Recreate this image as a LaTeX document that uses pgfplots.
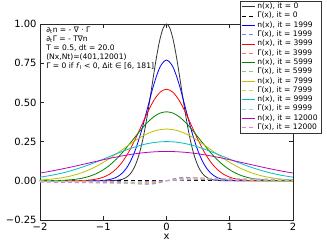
\documentclass[border=0pt]{standalone}
\usepackage{fontspec}
\setmainfont{DejaVu Sans}
\usepackage{pgfplots}
\pgfplotsset{compat=1.18}
\definecolor{mgreen}{rgb}{0,0.5,0}
\definecolor{myellow}{rgb}{0.75,0.75,0}
\definecolor{mcyan}{rgb}{0,0.75,0.75}
\definecolor{mmag}{rgb}{0.75,0,0.75}
\begin{document}
\begin{tikzpicture}
\useasboundingbox (-40bp,-25bp) rectangle (287bp,220bp);
\begin{axis}[
  at={(0bp,0bp)}, anchor=south west,
  scale only axis, width=253bp, height=196bp,
  xmin=-2, xmax=2, ymin=-0.25, ymax=1.0,
  xtick={-2,-1,0,1,2}, xticklabels={−2,−1,0,1,2},
  ytick={-0.25,0,0.25,0.5,0.75,1}, yticklabels={−0.25,0.00,0.25,0.50,0.75,1.00},
  tick align=inside, major tick length=4bp,
  xtick pos=both, ytick pos=both,
  axis line style={line width=0.8bp, black!85},
  every tick/.style={black!85, line width=0.6bp},
  tick label style={font=\fontsize{10}{12}\selectfont},
  xlabel={x}, xlabel style={font=\fontsize{10}{12}\selectfont, yshift=4bp},
  legend cell align=left,
  legend style={at={(1.112,1.118)}, anchor=north east, draw=black!80, fill=white,
    font=\fontsize{7.6}{8}\selectfont, row sep=0pt, inner xsep=1.5bp, inner ysep=1bp,
    nodes={text height=5.4bp, text depth=1.6bp, inner ysep=1.15bp},
    /tikz/every even column/.append style={column sep=7bp}},
  legend image code/.code={\draw[#1] (0bp,0bp) -- (13bp,0bp);},
  every axis plot/.append style={line width=0.8bp},
]
% it=0
\addplot[black!80, smooth] coordinates {(-2,0)(-1.0,0)(-0.9,0.0005)(-0.8,0.0023)(-0.75,0.0048)(-0.7,0.0095)(-0.65,0.0181)(-0.6,0.0327)(-0.55,0.0565)(-0.5,0.0930)(-0.45,0.1461)(-0.4,0.2187)(-0.35,0.3123)(-0.3,0.4253)(-0.25,0.5523)(-0.2,0.6839)(-0.15,0.8076)(-0.1,0.9094)(-0.05,0.9765)(0,1)(0.05,0.9765)(0.1,0.9094)(0.15,0.8076)(0.2,0.6839)(0.25,0.5523)(0.3,0.4253)(0.35,0.3123)(0.4,0.2187)(0.45,0.1461)(0.5,0.0930)(0.55,0.0565)(0.6,0.0327)(0.65,0.0181)(0.7,0.0095)(0.75,0.0048)(0.8,0.0023)(0.9,0.0005)(1.0,0)(2,0)};
\addlegendentry{n(x), it = 0}
\addplot[black, dash pattern=on 4bp off 3bp] coordinates {(-2,0)(2,0)};
\addlegendentry{Γ(x), it = 0}
% it=1999
\addplot[blue, smooth] coordinates {(-2,0)(-1.4,0)(-1.2,0.0002)(-1.1,0.0008)(-1.0,0.0027)(-0.9,0.0080)(-0.8,0.0209)(-0.7,0.0487)(-0.6,0.1013)(-0.5,0.1883)(-0.4,0.3126)(-0.3,0.4638)(-0.2,0.6147)(-0.1,0.7278)(0,0.770)(0.1,0.7278)(0.2,0.6147)(0.3,0.4638)(0.4,0.3126)(0.5,0.1883)(0.6,0.1013)(0.7,0.0487)(0.8,0.0209)(0.9,0.0080)(1.0,0.0027)(1.1,0.0008)(1.2,0.0002)(1.4,0)(2,0)};
\addlegendentry{n(x), it = 1999}
\addplot[blue!50, dash pattern=on 4bp off 3bp, smooth] coordinates {(-2,0)(-1.2,0)(-1.0,-0.0005)(-0.9,-0.0012)(-0.8,-0.0028)(-0.7,-0.0056)(-0.6,-0.0098)(-0.5,-0.0151)(-0.4,-0.0199)(-0.3,-0.0220)(-0.2,-0.0194)(-0.1,-0.0114)(0,0)(0.1,0.0114)(0.2,0.0194)(0.3,0.0220)(0.4,0.0199)(0.5,0.0151)(0.6,0.0098)(0.7,0.0056)(0.8,0.0028)(0.9,0.0012)(1.0,0.0005)(1.2,0)(2,0)};
\addlegendentry{Γ(x), it = 1999}
% it=3999
\addplot[red, smooth] coordinates {(-2,0)(-1.6,0.0001)(-1.5,0.0004)(-1.4,0.0010)(-1.3,0.0024)(-1.2,0.0055)(-1.1,0.0116)(-1.0,0.0228)(-0.9,0.0423)(-0.8,0.0734)(-0.7,0.1193)(-0.6,0.1819)(-0.5,0.2598)(-0.4,0.3477)(-0.3,0.4362)(-0.2,0.5130)(-0.1,0.5654)(0,0.584)(0.1,0.5654)(0.2,0.5130)(0.3,0.4362)(0.4,0.3477)(0.5,0.2598)(0.6,0.1819)(0.7,0.1193)(0.8,0.0734)(0.9,0.0423)(1.0,0.0228)(1.1,0.0116)(1.2,0.0055)(1.3,0.0024)(1.4,0.0010)(1.5,0.0004)(1.6,0.0001)(2,0)};
\addlegendentry{n(x), it = 3999}
\addplot[red!55, dash pattern=on 4bp off 3bp, smooth] coordinates {(-2,0)(-1.6,0)(-1.4,-0.0002)(-1.2,-0.0009)(-1.0,-0.0032)(-0.9,-0.0053)(-0.8,-0.0083)(-0.7,-0.0118)(-0.6,-0.0155)(-0.5,-0.0186)(-0.4,-0.0200)(-0.3,-0.0189)(-0.2,-0.0148)(-0.1,-0.0082)(0,0)(0.1,0.0082)(0.2,0.0148)(0.3,0.0189)(0.4,0.0200)(0.5,0.0186)(0.6,0.0155)(0.7,0.0118)(0.8,0.0083)(0.9,0.0053)(1.0,0.0032)(1.2,0.0009)(1.4,0.0002)(1.6,0)(2,0)};
\addlegendentry{Γ(x), it = 3999}
% it=5999
\addplot[mgreen, smooth] coordinates {(-2.0,0.0003)(-1.9,0.0006)(-1.8,0.0011)(-1.7,0.0022)(-1.6,0.0040)(-1.5,0.0070)(-1.4,0.0119)(-1.3,0.0196)(-1.2,0.0311)(-1.1,0.0475)(-1.0,0.0699)(-0.9,0.0991)(-0.8,0.1355)(-0.7,0.1786)(-0.6,0.2269)(-0.5,0.2778)(-0.4,0.3278)(-0.3,0.3729)(-0.2,0.4088)(-0.1,0.4320)(0,0.440)(0.1,0.4320)(0.2,0.4088)(0.3,0.3729)(0.4,0.3278)(0.5,0.2778)(0.6,0.2269)(0.7,0.1786)(0.8,0.1355)(0.9,0.0991)(1.0,0.0699)(1.1,0.0475)(1.2,0.0311)(1.3,0.0196)(1.4,0.0119)(1.5,0.0070)(1.6,0.0040)(1.7,0.0022)(1.8,0.0011)(1.9,0.0006)(2.0,0.0003)};
\addlegendentry{n(x), it = 5999}
\addplot[mgreen!45, dash pattern=on 4bp off 3bp, smooth] coordinates {(-2.0,-0.0001)(-1.8,-0.0003)(-1.6,-0.0008)(-1.4,-0.0021)(-1.2,-0.0048)(-1.0,-0.0090)(-0.8,-0.0140)(-0.6,-0.0176)(-0.4,-0.0170)(-0.2,-0.0106)(0,0)(0.2,0.0106)(0.4,0.0170)(0.6,0.0176)(0.8,0.0140)(1.0,0.0090)(1.2,0.0048)(1.4,0.0021)(1.6,0.0008)(1.8,0.0003)(2.0,0.0001)};
\addlegendentry{Γ(x), it = 5999}
% it=7999
\addplot[myellow, smooth] coordinates {(-2.0,0.0053)(-1.9,0.0079)(-1.8,0.0115)(-1.7,0.0166)(-1.6,0.0233)(-1.5,0.0321)(-1.4,0.0434)(-1.3,0.0574)(-1.2,0.0744)(-1.1,0.0943)(-1.0,0.1172)(-0.9,0.1427)(-0.8,0.1701)(-0.7,0.1987)(-0.6,0.2273)(-0.5,0.2548)(-0.4,0.2796)(-0.3,0.3007)(-0.2,0.3166)(-0.1,0.3266)(0,0.330)(0.1,0.3266)(0.2,0.3166)(0.3,0.3007)(0.4,0.2796)(0.5,0.2548)(0.6,0.2273)(0.7,0.1987)(0.8,0.1701)(0.9,0.1427)(1.0,0.1172)(1.1,0.0943)(1.2,0.0744)(1.3,0.0574)(1.4,0.0434)(1.5,0.0321)(1.6,0.0233)(1.7,0.0166)(1.8,0.0115)(1.9,0.0079)(2.0,0.0053)};
\addlegendentry{n(x), it = 7999}
\addplot[myellow!70, dash pattern=on 4bp off 3bp, smooth] coordinates {(-2.0,-0.0013)(-1.8,-0.0025)(-1.6,-0.0044)(-1.4,-0.0071)(-1.2,-0.0104)(-1.0,-0.0136)(-0.8,-0.0157)(-0.6,-0.0157)(-0.4,-0.0128)(-0.2,-0.0072)(0,0)(0.2,0.0072)(0.4,0.0128)(0.6,0.0157)(0.8,0.0157)(1.0,0.0136)(1.2,0.0104)(1.4,0.0071)(1.6,0.0044)(1.8,0.0025)(2.0,0.0013)};
\addlegendentry{Γ(x), it = 7999}
% it=9999
\addplot[mcyan, smooth] coordinates {(-2.0,0.0232)(-1.9,0.0293)(-1.8,0.0365)(-1.7,0.0449)(-1.6,0.0547)(-1.5,0.0657)(-1.4,0.0781)(-1.3,0.0916)(-1.2,0.1063)(-1.1,0.1218)(-1.0,0.1380)(-0.9,0.1545)(-0.8,0.1709)(-0.7,0.1869)(-0.6,0.2019)(-0.5,0.2155)(-0.4,0.2273)(-0.3,0.2370)(-0.2,0.2441)(-0.1,0.2485)(0,0.250)(0.1,0.2485)(0.2,0.2441)(0.3,0.2370)(0.4,0.2273)(0.5,0.2155)(0.6,0.2019)(0.7,0.1869)(0.8,0.1709)(0.9,0.1545)(1.0,0.1380)(1.1,0.1218)(1.2,0.1063)(1.3,0.0916)(1.4,0.0781)(1.5,0.0657)(1.6,0.0547)(1.7,0.0449)(1.8,0.0365)(1.9,0.0293)(2.0,0.0232)};
\addlegendentry{n(x), it = 9999}
\addplot[mcyan!50, dash pattern=on 4bp off 3bp, smooth] coordinates {(-2.0,-0.0047)(-1.8,-0.0067)(-1.6,-0.0088)(-1.4,-0.0110)(-1.2,-0.0129)(-1.0,-0.0139)(-0.8,-0.0138)(-0.6,-0.0122)(-0.4,-0.0091)(-0.2,-0.0049)(0,0)(0.2,0.0049)(0.4,0.0091)(0.6,0.0122)(0.8,0.0138)(1.0,0.0139)(1.2,0.0129)(1.4,0.0110)(1.6,0.0088)(1.8,0.0067)(2.0,0.0047)};
\addlegendentry{Γ(x), it = 9999}
% it=12000
\addplot[mmag, smooth] coordinates {(-2.0,0.0495)(-1.9,0.0563)(-1.8,0.0637)(-1.7,0.0716)(-1.6,0.0799)(-1.5,0.0885)(-1.4,0.0975)(-1.3,0.1066)(-1.2,0.1159)(-1.1,0.1251)(-1.0,0.1341)(-0.9,0.1429)(-0.8,0.1512)(-0.7,0.1589)(-0.6,0.1659)(-0.5,0.1721)(-0.4,0.1773)(-0.3,0.1815)(-0.2,0.1845)(-0.1,0.1864)(0,0.187)(0.1,0.1864)(0.2,0.1845)(0.3,0.1815)(0.4,0.1773)(0.5,0.1721)(0.6,0.1659)(0.7,0.1589)(0.8,0.1512)(0.9,0.1429)(1.0,0.1341)(1.1,0.1251)(1.2,0.1159)(1.3,0.1066)(1.4,0.0975)(1.5,0.0885)(1.6,0.0799)(1.7,0.0716)(1.8,0.0637)(1.9,0.0563)(2.0,0.0495)};
\addlegendentry{n(x), it = 12000}
\addplot[mmag!50, dash pattern=on 4bp off 3bp, smooth] coordinates {(-2.0,-0.0086)(-1.8,-0.0099)(-1.6,-0.0110)(-1.4,-0.0118)(-1.2,-0.0120)(-1.0,-0.0116)(-0.8,-0.0104)(-0.6,-0.0086)(-0.4,-0.0061)(-0.2,-0.0032)(0,0)(0.2,0.0032)(0.4,0.0061)(0.6,0.0086)(0.8,0.0104)(1.0,0.0116)(1.2,0.0120)(1.4,0.0118)(1.6,0.0110)(1.8,0.0099)(2.0,0.0086)};
\addlegendentry{Γ(x), it = 12000}
\node[anchor=north west, align=left, font=\fontsize{7.6}{9}\selectfont, inner sep=0pt]
  at (rel axis cs:0.024,0.985)
  {∂\textsubscript{t}n = - ∇ · Γ\\
   ∂\textsubscript{t}Γ = - T∇n\\
   T = 0.5, dt = 20.0\\
   (Nx,Nt)=(401,12001)\\
   Γ = 0 if \textit{f}\textsubscript{l} < 0, Δit ∈ [6, 181]};
\end{axis}
\end{tikzpicture}
\end{document}
